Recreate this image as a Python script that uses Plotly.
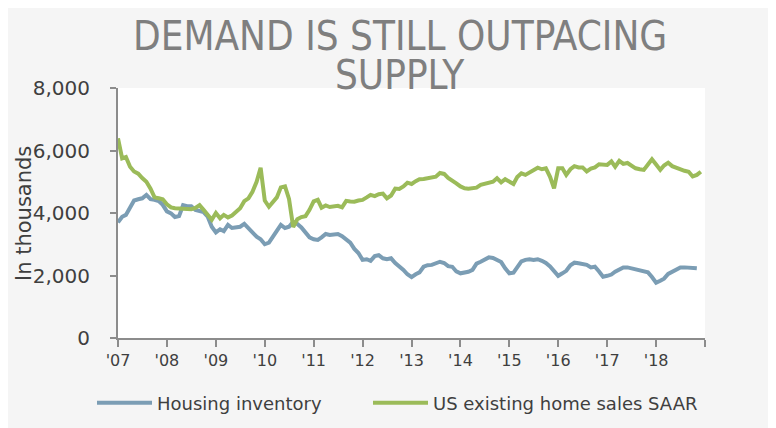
import pandas as pd
import plotly.graph_objects as go

# Monthly values, in thousands, starting January 2007
housing_inventory = [
    3700, 3880, 3940, 4150, 4400, 4440, 4470, 4580, 4440, 4420, 4380, 4260,
    4050, 3990, 3870, 3900, 4250, 4220, 4220, 4100, 4050, 4030, 3880, 3560,
    3380, 3480, 3420, 3620, 3520, 3530, 3560, 3650, 3500, 3350, 3240, 3160,
    3000, 3050, 3240, 3400, 3620, 3520, 3560, 3720, 3650, 3540, 3380, 3220,
    3160, 3140, 3220, 3330, 3300, 3320, 3330, 3260, 3150, 3050, 2850, 2720,
    2500, 2520, 2470, 2620, 2650, 2550, 2520, 2550, 2400, 2300, 2180, 2040,
    1950, 2040, 2100, 2280, 2330, 2340, 2390, 2440, 2400, 2300, 2280, 2130,
    2070, 2090, 2120, 2180, 2380, 2440, 2500, 2580, 2560, 2500, 2430, 2230,
    2070, 2090, 2250, 2450, 2500, 2520, 2500, 2520, 2470, 2400, 2290, 2130,
    1990, 2070, 2150, 2330, 2410, 2390, 2370, 2340, 2260, 2280, 2130, 1960,
    1990, 2030, 2120, 2180, 2260, 2260, 2230, 2200, 2180, 2140, 2100, 1950,
    1770, 1830, 1900, 2050, 2120, 2200, 2260, 2260, 2260, 2240, 2230,
]

existing_home_sales = [
    6390, 5750, 5790, 5480, 5330, 5260, 5120, 5000, 4780, 4500, 4470, 4440,
    4280, 4180, 4150, 4150, 4150, 4150, 4120, 4160, 4250, 4100, 3920, 3780,
    4000, 3830, 3940, 3860, 3920, 4020, 4150, 4380, 4470, 4680, 5000, 5450,
    4400, 4200, 4330, 4500, 4820, 4850, 4450, 3550, 3800, 3870, 3900, 4100,
    4370, 4420, 4170, 4240, 4190, 4200, 4230, 4180, 4390, 4370, 4360, 4400,
    4420, 4500, 4580, 4540, 4600, 4620, 4470, 4560, 4780, 4770, 4850, 4970,
    4930, 5020, 5080, 5090, 5110, 5140, 5160, 5280, 5250, 5120, 5050, 4950,
    4850, 4790, 4780, 4780, 4810, 4900, 4940, 4970, 5000, 5110, 4980, 5080,
    5020, 4930, 5150, 5270, 5220, 5300, 5350, 5450, 5400, 5430, 5160, 4790,
    5430, 5430, 5220, 5400, 5500, 5460, 5460, 5330, 5420, 5460, 5560, 5550,
    5540, 5650, 5480, 5670, 5570, 5600, 5500, 5430, 5400, 5380, 5550, 5720,
    5550, 5380, 5520, 5610, 5500, 5440, 5400, 5350, 5320, 5170, 5220, 5320,
]

years = list(range(2007, 2020))
year_labels = ["'07", "'08", "'09", "'10", "'11", "'12", "'13", "'14",
               "'15", "'16", "'17", "'18", ""]
y_ticks = [0, 2000, 4000, 6000, 8000]
title_lines = ["DEMAND IS STILL OUTPACING", "SUPPLY"]
y_title = "In thousands"

dates_inv = pd.date_range("2007-01-01", periods=len(housing_inventory), freq="MS")
dates_sales = pd.date_range("2007-01-01", periods=len(existing_home_sales), freq="MS")

BLUE = "#7b9db4"
GREEN = "#9bbb59"
AXIS = "#8c8c8c"
TEXT = "#3f3f3f"
FONT = "DejaVu Sans, Verdana, sans-serif"
TITLE_FONT = "DejaVu Sans Condensed, DejaVu Sans, sans-serif"

fig = go.Figure()
fig.add_trace(go.Scatter(x=dates_inv, y=housing_inventory, mode="lines",
                         name="Housing inventory", legend="legend",
                         line=dict(color=BLUE, width=4)))
fig.add_trace(go.Scatter(x=dates_sales, y=existing_home_sales, mode="lines",
                         name="US existing home sales SAAR", legend="legend2",
                         line=dict(color=GREEN, width=4)))

# page shows the figure offset by 8px (body margin); positions below are
# screen pixels converted to figure pixels
OFF = 8
W, H = 776, 428
ml, mr, mt, mb = 118 - OFF, W - (705 - OFF), 88 - OFF, H - (338 - OFF)
pw, ph = W - ml - mr, H - mt - mb

def px_x(p):
    return (p - OFF - ml) / pw

def px_y(p):
    return (H - mb - (p - OFF)) / ph

annotations = [
    dict(text=title_lines[0], xref="paper", yref="paper",
         x=px_x(400), y=px_y(36), xanchor="center", yanchor="middle",
         showarrow=False, font=dict(family=TITLE_FONT, size=40, color="#7f7f7f")),
    dict(text=title_lines[1], xref="paper", yref="paper",
         x=px_x(400), y=px_y(75), xanchor="center", yanchor="middle",
         showarrow=False, font=dict(family=TITLE_FONT, size=40, color="#7f7f7f")),
    dict(text=y_title, xref="paper", yref="paper", textangle=-90,
         x=px_x(24), y=px_y(213), xanchor="center", yanchor="middle",
         showarrow=False, font=dict(family=FONT, size=21, color=TEXT)),
]

legend_common = dict(orientation="h", xanchor="left", xref="paper",
                     yanchor="middle", itemwidth=55,
                     font=dict(size=18, color=TEXT, family=FONT),
                     bgcolor="rgba(0,0,0,0)")

fig.update_layout(
    width=W, height=H,
    margin=dict(l=ml, r=mr, t=mt, b=mb, pad=0, autoexpand=False),
    paper_bgcolor="#f5f5f5",
    plot_bgcolor="white",
    font=dict(family=FONT, color=TEXT, size=18),
    annotations=annotations,
    showlegend=True,
    legend=dict(legend_common, x=px_x(92), y=px_y(403)),
    legend2=dict(legend_common, x=px_x(368), y=px_y(403)),
    xaxis=dict(type="date", range=["2007-01-01", "2019-01-01"],
               tickvals=[f"{y}-01-01" for y in years], ticktext=year_labels,
               ticks="outside", ticklen=7, tickwidth=1.5, tickcolor=AXIS,
               showline=True, linecolor=AXIS, linewidth=2,
               showgrid=False, zeroline=False, automargin=False,
               tickfont=dict(size=16, color=TEXT)),
    yaxis=dict(range=[0, 8000], tickvals=y_ticks, tickformat=",",
               ticks="outside", ticklen=6, tickwidth=1.5, tickcolor=AXIS,
               showline=True, linecolor=AXIS, linewidth=2,
               showgrid=False, zeroline=False, ticklabelstandoff=16,
               automargin=False,
               tickfont=dict(size=20, color=TEXT)),
)

fig.write_html("out.html")
